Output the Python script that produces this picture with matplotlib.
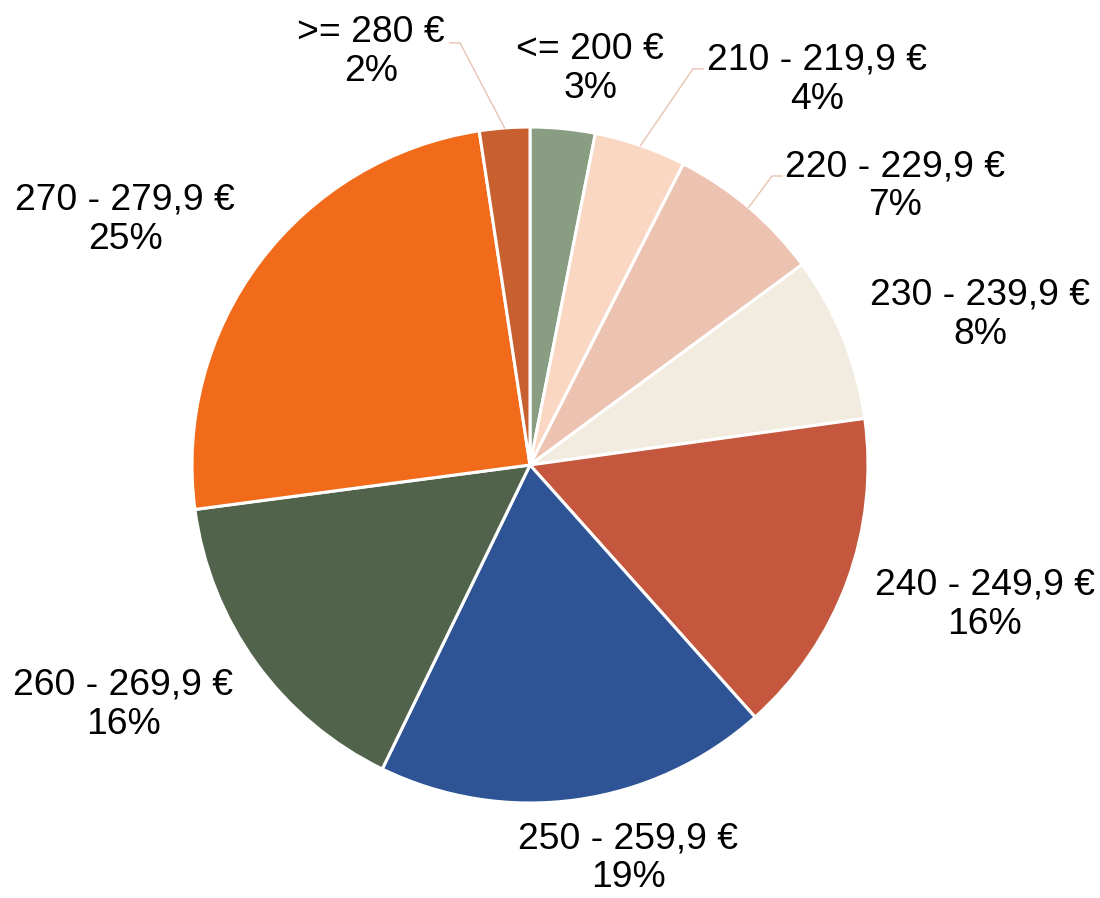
import matplotlib
matplotlib.use("Agg")
import numpy as np
import matplotlib.pyplot as plt

# Verteilung nach Preisklassen (Anteile in %)
categories = ["<= 200 €", "210 - 219,9 €", "220 - 229,9 €", "230 - 239,9 €",
              "240 - 249,9 €", "250 - 259,9 €", "260 - 269,9 €",
              "270 - 279,9 €", ">= 280 €"]
shares = [3.1, 4.4, 7.4, 7.9, 15.6, 18.8, 15.7, 24.7, 2.4]
colors = ["#899d82", "#fad7c3", "#ecc3b0", "#f2ece0", "#c4573e",
          "#2f5496", "#52634c", "#f26b1a", "#c85f2e"]

# Layout der Beschriftungen (Datenkoordinaten, Radius = 1)
label_pos = [(0.178, 1.172), (0.849, 1.139), (1.080, 0.825), (1.331, 0.444),
             (1.346, -0.414), (0.290, -1.163), (-1.204, -0.710),
             (-1.198, 0.725), (-0.470, 1.222)]
# Führungslinien: Index -> (Knick, Ende)
leaders = {1: ((0.482, 1.172), (0.512, 1.172)),
           2: ((0.716, 0.855), (0.746, 0.855)),
           8: ((-0.207, 1.249), (-0.237, 1.249))}

plt.rcParams['font.family'] = ['Liberation Sans', 'DejaVu Sans']

fig = plt.figure(figsize=(11, 8.98), dpi=100)
ax = fig.add_axes([0, 0, 1, 1])

wedges, _ = ax.pie(shares, colors=colors, startangle=90, counterclock=False,
                   radius=1.0, wedgeprops=dict(edgecolor="white", linewidth=2.2))

total = sum(shares)
for i, (w, cat, val) in enumerate(zip(wedges, categories, shares)):
    x, y = label_pos[i]
    ax.text(x, y, f"{cat}\n{round(100 * val / total)}%", ha="center", va="center",
            fontsize=26.8, linespacing=1.15, color="black")
    if i in leaders:
        ang = np.deg2rad((w.theta1 + w.theta2) / 2)
        (kx, ky), (ex, ey) = leaders[i]
        ax.plot([np.cos(ang), kx, ex], [np.sin(ang), ky, ey],
                color="#e8c3b3", linewidth=1.0)

ax.set_xlim(-530 / 338, 570 / 338)
ax.set_ylim(-433 / 338, 465 / 338)
ax.set_aspect("equal")
ax.axis("off")

fig.savefig("out.png", dpi=100)
